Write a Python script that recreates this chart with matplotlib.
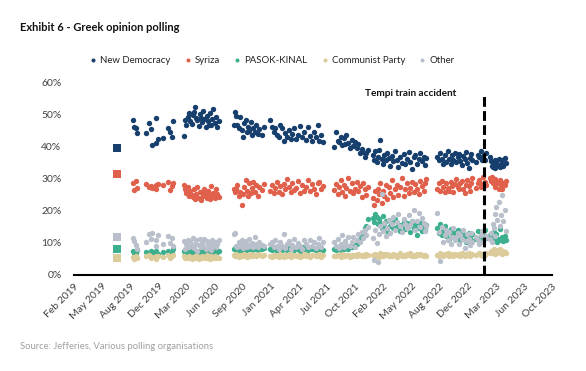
import datetime as dt

import matplotlib
matplotlib.use("Agg")
import matplotlib.pyplot as plt
import matplotlib.dates as mdates
import matplotlib.ticker as mticker

plt.rcParams['font.family'] = ['Lato', 'DejaVu Sans']

# ---------------------------------------------------------------------------
# Data
# ---------------------------------------------------------------------------

# July 2019 election result, drawn as squares
election_date = "2019-07-07"
election_results = [39.8, 31.5, 8.1, 5.3, 12.0]   # ND, Syriza, PASOK, KKE, Other

event_date = "2023-02-01"
event_label = "Tempi train accident"

poll_dates = [
    # Sep 2019 - Jan 2020
    "2019-09-02", "2019-09-05", "2019-09-14", "2019-09-17", "2019-10-18",
    "2019-10-29", "2019-11-06", "2019-11-09", "2019-11-21", "2019-11-24",
    "2019-11-30", "2019-12-18", "2020-01-04", "2020-01-12", "2020-01-18",
    "2020-01-22",
    # Mar 2020 - Jul 2020
    "2020-03-01", "2020-03-05", "2020-03-10", "2020-03-15", "2020-03-20",
    "2020-03-24", "2020-03-28", "2020-04-02", "2020-04-06", "2020-04-09",
    "2020-04-14", "2020-04-18", "2020-04-22", "2020-04-27", "2020-05-01",
    "2020-05-05", "2020-05-09", "2020-05-13", "2020-05-17", "2020-05-21",
    "2020-05-25", "2020-05-29", "2020-06-02", "2020-06-06", "2020-06-10",
    "2020-06-14", "2020-06-18", "2020-06-23", "2020-06-28", "2020-07-03",
    # Aug 2020 - Dec 2020
    "2020-08-25", "2020-08-29", "2020-09-02", "2020-09-07", "2020-09-12",
    "2020-09-17", "2020-09-22", "2020-09-26", "2020-10-01", "2020-10-06",
    "2020-10-10", "2020-10-15", "2020-10-20", "2020-10-24", "2020-10-29",
    "2020-11-03", "2020-11-08", "2020-11-13", "2020-11-18", "2020-11-24",
    "2020-12-02", "2020-12-10",
    # Jan 2021 - Jul 2021
    "2021-01-02", "2021-01-08", "2021-01-14", "2021-01-20", "2021-01-26",
    "2021-02-01", "2021-02-07", "2021-02-13", "2021-02-19", "2021-02-25",
    "2021-03-03", "2021-03-09", "2021-03-15", "2021-03-21", "2021-03-27",
    "2021-04-03", "2021-04-10", "2021-04-17", "2021-04-24", "2021-05-01",
    "2021-05-08", "2021-05-15", "2021-05-22", "2021-05-29", "2021-06-05",
    "2021-06-12", "2021-06-19", "2021-06-26", "2021-07-03", "2021-07-10",
    # Aug 2021 - Dec 2021
    "2021-08-18", "2021-08-24", "2021-08-30", "2021-09-05", "2021-09-10",
    "2021-09-15", "2021-09-20", "2021-09-25", "2021-09-30", "2021-10-06",
    "2021-10-12", "2021-10-18", "2021-10-24", "2021-10-30", "2021-11-05",
    "2021-11-11", "2021-11-17", "2021-11-23", "2021-11-29", "2021-12-05",
    "2021-12-10", "2021-12-15",
    # Jan 2022 - Jul 2022
    "2022-01-03", "2022-01-07", "2022-01-11", "2022-01-15", "2022-01-19",
    "2022-01-24", "2022-01-28", "2022-02-02", "2022-02-07", "2022-02-12",
    "2022-02-17", "2022-02-22", "2022-02-27", "2022-03-04", "2022-03-10",
    "2022-03-16", "2022-03-22", "2022-03-28", "2022-04-03", "2022-04-09",
    "2022-04-15", "2022-04-21", "2022-04-27", "2022-05-03", "2022-05-09",
    "2022-05-15", "2022-05-21", "2022-05-27", "2022-06-02", "2022-06-08",
    "2022-06-14", "2022-06-20", "2022-06-26", "2022-07-01", "2022-07-06",
    "2022-07-11",
    # Aug 2022 - Feb 2023
    "2022-08-18", "2022-08-24", "2022-08-30", "2022-09-05", "2022-09-10",
    "2022-09-15", "2022-09-20", "2022-09-25", "2022-09-30", "2022-10-05",
    "2022-10-10", "2022-10-15", "2022-10-20", "2022-10-25", "2022-10-30",
    "2022-11-04", "2022-11-09", "2022-11-14", "2022-11-19", "2022-11-24",
    "2022-11-29", "2022-12-04", "2022-12-08", "2022-12-12", "2022-12-16",
    "2022-12-20", "2023-01-05", "2023-01-10", "2023-01-15", "2023-01-20",
    "2023-01-25", "2023-01-30", "2023-02-04", "2023-02-09",
    # Feb 2023 - Apr 2023
    "2023-02-24", "2023-02-27", "2023-03-02", "2023-03-05", "2023-03-08",
    "2023-03-11", "2023-03-14", "2023-03-17", "2023-03-21", "2023-03-25",
    "2023-03-29", "2023-04-02", "2023-04-06", "2023-04-11", "2023-04-16",
    "2023-04-22",
]

new_democracy = [
    48.4, 46.1, 45.8, 44.5, 44.3, 47.4, 45.5, 40.6, 41.1, 49.0,
    42.4, 42.7, 45.8, 44.8, 43.2, 48.1,
    43.5, 48.4, 47.0, 49.5, 50.5, 48.0, 47.2, 50.0, 51.0, 52.6,
    49.2, 48.5, 46.5, 50.2, 49.0, 47.8, 51.2, 48.6, 46.2, 49.8,
    48.2, 47.0, 50.6, 46.8, 48.8, 52.0, 47.4, 49.4, 46.4, 48.0,
    47.0, 51.0, 49.8, 46.9, 45.8, 49.5, 45.3, 43.2, 47.5, 48.4,
    44.8, 46.3, 45.0, 47.8, 43.8, 46.0, 44.8, 47.0, 44.2, 45.6,
    43.6, 46.4,
    48.4, 46.4, 44.8, 45.8, 43.8, 43.1, 47.0, 45.8, 41.9, 44.4,
    43.0, 45.2, 42.4, 44.0, 46.0, 42.6, 43.8, 46.7, 43.1, 44.6,
    42.2, 46.2, 43.4, 41.9, 44.8, 43.0, 46.9, 42.0, 43.8, 41.6,
    40.1, 44.7, 42.0, 41.7, 43.2, 40.6, 42.8, 41.0, 43.75, 41.4,
    39.8, 42.2, 40.4, 41.7, 39.6, 40.8, 38.0, 39.4, 38.5, 37.0,
    38.1, 39.0,
    37.5, 36.0, 38.6, 35.2, 37.0, 39.0, 42.1, 36.4, 34.8, 37.6,
    35.8, 38.2, 36.6, 34.2, 37.2, 35.6, 38.8, 36.0, 33.6, 36.8,
    35.0, 37.8, 34.6, 36.2, 38.4, 35.4, 33.2, 36.8, 37.4, 34.8,
    36.2, 38.0, 35.6, 37.0, 34.4, 36.6,
    37.0, 35.8, 38.2, 36.4, 34.8, 37.6, 35.4, 38.8, 36.2, 34.6,
    37.4, 36.0, 38.0, 35.2, 36.8, 37.8, 35.6, 34.4, 37.2, 36.4,
    38.4, 35.0, 33.5, 36.6, 37.8, 36.0, 35.4, 37.6, 36.8, 38.6,
    35.8, 37.2, 36.0, 38.2,
    37.0, 35.6, 34.2, 33.8, 34.8, 36.0, 33.4, 35.2, 34.4, 36.4,
    33.9, 34.6, 35.8, 34.0, 36.5, 35.0,
]

syriza = [
    28.7, 26.6, 29.4, 27.2, 28.4, 27.6, 27.9, 27.3, 28.1, 26.9,
    28.3, 28.0, 29.1, 26.6, 27.8, 28.6,
    28.2, 26.8, 25.5, 27.4, 24.8, 26.2, 25.0, 24.5, 26.8, 23.6,
    25.2, 27.5, 24.2, 25.8, 23.4, 26.0, 24.6, 27.0, 25.4, 24.0,
    26.4, 25.0, 23.8, 27.8, 24.8, 25.6, 24.2, 26.8, 25.2, 24.4,
    27.0, 25.8, 26.8, 28.2, 24.6, 26.0, 21.9, 25.2, 27.4, 29.7,
    26.2, 24.8, 28.8, 25.6, 27.2, 29.2, 26.0, 28.0, 24.8, 27.6,
    26.6, 28.4,
    26.4, 28.0, 25.6, 27.2, 29.0, 26.0, 27.8, 25.2, 28.4, 26.8,
    30.0, 27.4, 25.8, 28.8, 26.6, 27.2, 29.4, 25.6, 28.0, 26.4,
    27.6, 29.8, 26.2, 28.4, 27.0, 25.4, 28.6, 29.2, 26.8, 27.8,
    26.6, 28.4, 25.2, 27.6, 29.6, 26.0, 28.0, 24.6, 27.2, 30.4,
    26.4, 28.8, 25.6, 27.0, 29.2, 26.2, 27.8, 24.4, 28.6, 26.8,
    25.0, 27.4,
    24.0, 21.9, 26.2, 23.4, 27.0, 25.2, 28.6, 22.6, 26.4, 24.8,
    28.2, 23.8, 27.4, 25.6, 29.6, 24.4, 26.8, 28.0, 25.0, 27.6,
    30.2, 24.6, 26.8, 28.8, 25.6, 27.2, 29.0, 26.0, 28.4, 27.0,
    25.4, 29.4, 27.8, 26.4, 28.6, 30.0,
    27.0, 28.6, 26.2, 29.4, 27.6, 25.8, 28.8, 27.2, 26.4, 29.0,
    27.8, 26.0, 28.4, 30.0, 27.4, 26.8, 28.6, 29.4, 27.0, 25.6,
    28.2, 29.6, 27.8, 26.4, 28.8, 30.2, 27.2, 28.6, 29.8, 27.6,
    28.4, 30.6, 29.0, 28.2,
    30.2, 29.4, 30.6, 28.8, 29.8, 27.6, 30.0, 28.4, 29.2, 27.0,
    29.6, 28.2, 26.9, 28.8, 28.1, 29.4,
]

pasok_kinal = [
    7.5, 7.0, 6.8, 7.8, 7.2, 6.9, 7.4, 6.6, 7.0, 7.6,
    6.5, 7.2, 7.5, 6.8, 7.0, 8.0,
    7.5, 7.0, 6.8, 7.4, 7.2, 6.5, 7.8, 7.0, 6.6, 7.3,
    7.6, 6.9, 7.1, 7.4, 6.7, 7.2, 7.8, 6.8, 7.0, 7.5,
    6.6, 7.3, 7.1, 6.9, 7.6, 7.0, 7.4, 6.8, 7.2, 7.5,
    8.0, 8.4, 7.8, 8.6, 8.2, 7.6, 8.8, 8.0, 8.4, 7.9,
    8.6, 8.2, 8.0, 8.8, 7.8, 8.4, 8.2, 8.6, 7.9, 8.3,
    8.0, 8.5,
    8.2, 7.8, 8.6, 8.0, 7.6, 8.4, 8.8, 7.9, 8.2, 8.5,
    7.7, 8.3, 8.0, 8.6, 7.8, 8.4, 8.1, 7.6, 8.7, 8.0,
    8.3, 7.8, 8.5, 8.0, 8.2, 7.9, 8.6, 8.1, 8.4, 7.8,
    8.0, 7.8, 8.4, 8.2, 7.9, 8.6, 8.0, 8.4, 8.8, 8.2,
    9.0, 8.6, 9.4, 9.0, 9.8, 10.4, 11.2, 12.4, 13.0, 14.6,
    15.2, 17.4,
    17.8, 16.6, 19.0, 18.2, 15.8, 17.4, 16.2, 14.8, 18.4, 15.6,
    16.8, 13.6, 17.2, 15.4, 16.4, 14.6, 17.6, 15.0, 16.0, 13.8,
    15.6, 17.0, 14.4, 16.2, 15.2, 13.4, 16.8, 14.8, 15.8, 12.6,
    14.6, 16.4, 13.8, 15.2, 14.0, 15.6,
    14.6, 13.2, 16.0, 12.6, 14.0, 15.2, 12.2, 13.6, 11.4, 14.4,
    12.8, 13.4, 11.8, 12.4, 14.2, 12.0, 10.8, 13.0, 11.6, 12.6,
    10.4, 11.8, 13.2, 12.2, 11.0, 12.8, 11.4, 13.6, 10.6, 12.0,
    11.2, 12.6, 14.0, 11.6,
    12.4, 11.2, 10.8, 12.0, 13.4, 10.6, 11.6, 12.8, 10.4, 11.4,
    14.4, 10.9, 11.8, 10.5, 12.2, 11.0,
]

communist_party = [
    5.5, 5.0, 6.0, 5.2, 5.8, 6.2, 5.4, 5.6, 6.0, 5.1,
    5.9, 5.5, 6.1, 5.3, 5.8, 6.4,
    5.8, 5.4, 5.6, 5.2, 5.9, 5.5, 5.0, 5.7, 5.3, 6.0,
    5.4, 5.8, 5.1, 5.6, 5.5, 5.9, 5.2, 5.7, 5.4, 6.1,
    5.3, 5.6, 5.0, 5.8, 5.5, 5.2, 5.9, 5.4, 5.7, 5.3,
    6.2, 5.8, 6.5, 6.0, 5.6, 6.4, 6.1, 5.9, 6.6, 6.2,
    5.7, 6.3, 6.0, 6.5, 5.8, 6.2, 6.4, 5.9, 6.1, 6.6,
    5.8, 6.3,
    6.0, 5.6, 6.4, 5.8, 6.2, 5.5, 6.6, 6.0, 5.7, 6.3,
    5.9, 6.5, 5.6, 6.1, 6.4, 5.8, 6.2, 5.5, 6.0, 6.6,
    5.9, 6.3, 5.7, 6.1, 6.4, 5.8, 6.0, 6.5, 5.6, 6.2,
    6.0, 5.8, 6.4, 6.2, 5.6, 6.5, 6.0, 5.9, 6.3, 6.1,
    5.7, 6.4, 6.0, 6.2, 5.8, 6.6, 6.1, 5.9, 6.3, 6.0,
    6.5, 6.2,
    6.2, 5.8, 6.6, 6.0, 6.4, 5.6, 6.8, 6.2, 5.9, 6.5,
    6.1, 6.7, 5.8, 6.3, 6.0, 6.6, 6.2, 5.7, 6.4, 6.9,
    6.0, 6.3, 5.9, 6.6, 6.2, 6.8, 6.0, 6.4, 5.8, 6.5,
    6.1, 6.7, 6.2, 5.9, 6.4, 6.0,
    6.4, 6.0, 6.8, 6.2, 5.8, 6.6, 6.3, 6.9, 6.0, 6.5,
    6.2, 5.9, 6.7, 6.4, 6.1, 6.6, 6.0, 6.8, 6.3, 5.9,
    6.5, 6.2, 6.8, 6.0, 6.4, 6.7, 6.1, 6.5, 6.9, 6.2,
    6.6, 6.0, 6.4, 6.8,
    7.0, 7.6, 6.8, 7.4, 8.0, 6.6, 7.2, 7.8, 6.9, 7.4,
    8.2, 7.0, 6.6, 7.6, 7.2, 6.8,
]

other = [
    11.5, 10.5, 9.5, 8.0, 10.2, 12.8, 11.2, 13.0, 9.2, 10.8,
    12.4, 9.8, 12.2, 10.1, 11.5, 9.0,
    10.5, 8.2, 9.6, 11.0, 8.8, 10.2, 9.0, 11.6, 8.4, 9.8,
    10.8, 7.6, 9.4, 11.2, 8.6, 10.0, 9.2, 11.4, 8.0, 10.6,
    9.6, 8.8, 10.4, 7.8, 11.0, 9.2, 10.2, 8.6, 9.8, 10.8,
    12.8, 13.2, 9.0, 8.6, 10.4, 9.2, 11.0, 8.4, 9.8, 10.6,
    8.8, 9.4, 11.2, 9.0, 10.0, 8.6, 12.0, 9.6, 8.8, 10.2,
    9.4, 9.0,
    9.6, 10.4, 8.6, 11.0, 9.2, 8.0, 10.2, 9.0, 12.8, 8.4,
    9.8, 10.6, 8.2, 9.4, 11.4, 8.8, 10.0, 9.2, 8.0, 10.8,
    9.6, 8.6, 11.0, 9.0, 10.2, 8.4, 9.8, 11.6, 8.8, 10.4,
    10.2, 9.0, 11.4, 8.4, 9.8, 12.4, 8.8, 10.6, 9.4, 11.8,
    9.0, 10.4, 12.0, 8.6, 11.0, 12.8, 10.2, 13.4, 11.6, 14.0,
    12.6, 15.0,
    11.6, 4.7, 14.2, 10.0, 4.2, 12.8, 15.4, 25.2, 13.6, 16.4,
    12.2, 14.8, 17.2, 13.0, 15.8, 18.2, 14.0, 16.6, 19.0, 15.2,
    13.4, 17.6, 16.0, 14.6, 18.8, 15.6, 17.0, 20.2, 14.2, 16.8,
    19.4, 15.0, 17.8, 16.2, 13.8, 15.4,
    19.3, 13.4, 4.5, 15.0, 10.4, 12.6, 14.2, 11.0, 13.5, 9.6,
    12.0, 14.8, 10.8, 11.8, 13.0, 9.8, 12.4, 11.2, 14.0, 8.4,
    10.6, 12.8, 11.4, 9.4, 13.2, 10.2, 12.0, 11.0, 9.8, 12.6,
    13.8, 10.4, 11.6, 12.2,
    11.4, 13.0, 10.4, 16.0, 14.6, 19.0, 12.2, 21.4, 17.2, 22.8,
    15.4, 18.6, 25.0, 16.8, 20.4, 13.6,
]

party_names = ["New Democracy", "Syriza", "PASOK-KINAL", "Communist Party", "Other"]
party_values = [new_democracy, syriza, pasok_kinal, communist_party, other]
party_colors = ["#163f6e", "#e0604b", "#3caf8e", "#dccb9b", "#b9c0cb"]

# ---------------------------------------------------------------------------
# Figure
# ---------------------------------------------------------------------------

fig = plt.figure(figsize=(5.86, 3.71), dpi=100)
ax = fig.add_axes([0.1263, 0.2588, 0.8157, 0.5175])

dates = [dt.datetime.strptime(d, "%Y-%m-%d") for d in poll_dates]
e_date = dt.datetime.strptime(election_date, "%Y-%m-%d")

handles = []
for name, values, color in zip(party_names, party_values, party_colors):
    h = ax.scatter(dates, values, s=15, color=color, linewidths=0, label=name, zorder=3)
    handles.append(h)

for value, color in zip(election_results, party_colors):
    ax.scatter([e_date], [value], s=30, marker='s', color=color, linewidths=0, zorder=3)

# event line
ev = dt.datetime.strptime(event_date, "%Y-%m-%d")
ax.plot([ev, ev], [0, 57], color='black', lw=2.2, dashes=(3.2, 1.4), zorder=4)
ax.annotate(event_label, xy=(ev, 56.6), xytext=(-20, 0), textcoords='offset points',
            ha='right', va='center', fontsize=7.2, fontweight='bold', color='#111111')

# axes
x_start = dt.datetime(2019, 2, 4)
ticks = [x_start + dt.timedelta(days=100 * k) for k in range(18)]
ax.set_xlim(ticks[0], ticks[-1])
ax.set_xticks(ticks)
ax.xaxis.set_major_formatter(mdates.DateFormatter("%b %Y"))
ax.set_ylim(0, 60)
ax.set_yticks(range(0, 61, 10))
ax.yaxis.set_major_formatter(mticker.FuncFormatter(lambda v, p: "%d%%" % v))

for s in ['top', 'right', 'left']:
    ax.spines[s].set_visible(False)
ax.spines['bottom'].set_linewidth(1.5)
ax.spines['bottom'].set_color('black')

ax.tick_params(axis='both', length=0, labelsize=7.5, labelcolor='#404040')
ax.tick_params(axis='y', pad=9)
ax.tick_params(axis='x', pad=5)
for lab in ax.get_xticklabels():
    lab.set_rotation(45)
    lab.set_ha('right')
    lab.set_rotation_mode('anchor')

fig.legend(handles=handles, loc='center', bbox_to_anchor=(0.464, 0.838), ncol=5,
           frameon=False, fontsize=6.9, handlelength=0.8, handletextpad=0.34,
           columnspacing=1.4, markerscale=0.75, labelcolor='#222222')

fig.text(0.034, 0.927, "Exhibit 6 - Greek opinion polling", fontsize=8,
         fontweight='bold', color='#111111', va='center', ha='left')
fig.text(0.034, 0.065, "Source: Jefferies, Various polling organisations", fontsize=6.8,
         color='#a0a0a0', va='center', ha='left')

fig.savefig("out.png", dpi=100)
plt.close(fig)
